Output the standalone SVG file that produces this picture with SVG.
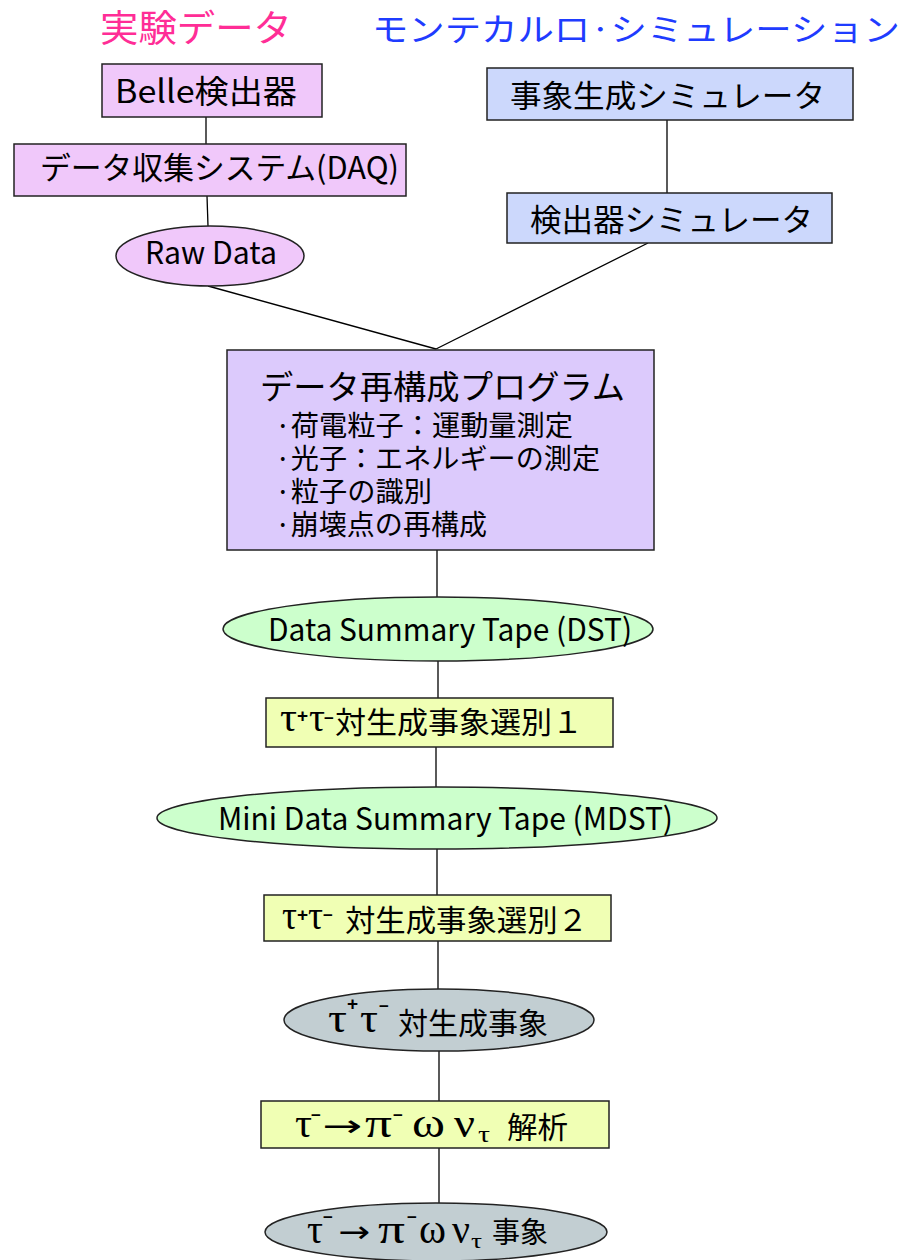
<svg xmlns="http://www.w3.org/2000/svg" width="909" height="1260" viewBox="0 0 909 1260">
<style>
.b{stroke:#222;stroke-width:1.5}
.pk{fill:#f0c8fa}
.bl{fill:#ccd8fc}
.lv{fill:#dccafc}
.gr{fill:#ccffcc}
.yl{fill:#f0ffb4}
.gy{fill:#c2ced2}
text{font-family:"Noto Sans CJK JP","DejaVu Sans",sans-serif;fill:#000}
.g{font-family:"Liberation Serif","DejaVu Serif",serif}
.s{font-family:"Liberation Sans","DejaVu Sans",sans-serif;font-size:19px;font-weight:bold}
.m{font-family:"Liberation Sans","DejaVu Sans",sans-serif;font-size:17px;font-weight:bold}
.a{font-family:"DejaVu Sans",sans-serif;font-size:30px}
#connectors line{stroke:#000;stroke-width:1.3}
</style>
<rect width="909" height="1260" fill="#fff"/>
<text x="100" y="42" font-size="37" style="fill:#ff2d96" textLength="192" lengthAdjust="spacingAndGlyphs">実験データ</text>
<text x="372" y="41" font-size="32" style="fill:#1f3cff" textLength="528" lengthAdjust="spacingAndGlyphs">モンテカルロ·シミュレーション</text>

<g id="connectors">
<line x1="206" y1="117" x2="206" y2="144"/>
<line x1="207" y1="196" x2="208" y2="226"/>
<line x1="208" y1="286" x2="436" y2="349"/>
<line x1="667" y1="120" x2="667" y2="193"/>
<line x1="648" y1="243" x2="436" y2="349"/>
<line x1="437" y1="550" x2="437" y2="598"/>
<line x1="438" y1="661" x2="438" y2="698"/>
<line x1="436" y1="747" x2="436" y2="788"/>
<line x1="437" y1="848" x2="437" y2="895"/>
<line x1="438" y1="941" x2="438" y2="989"/>
<line x1="439" y1="1051" x2="439" y2="1101"/>
<line x1="439" y1="1148" x2="439" y2="1203"/>
</g>

<g id="belle">
<rect class="b pk" x="102" y="64" width="220" height="53"/>
<text x="115" y="103" font-size="32" textLength="182" lengthAdjust="spacingAndGlyphs">Belle検出器</text>
</g>
<g id="daq">
<rect class="b pk" x="14" y="144" width="392" height="52"/>
<text x="40" y="179" font-size="31" textLength="359" lengthAdjust="spacingAndGlyphs">データ収集システム(DAQ)</text>
</g>
<g id="rawdata">
<ellipse class="b pk" cx="210" cy="256" rx="94" ry="30"/>
<text x="145" y="264" font-size="31" textLength="132" lengthAdjust="spacingAndGlyphs">Raw Data</text>
</g>
<g id="evgen">
<rect class="b bl" x="487" y="68" width="366" height="52"/>
<text x="510" y="107" font-size="31" textLength="315" lengthAdjust="spacingAndGlyphs">事象生成シミュレータ</text>
</g>
<g id="detsim">
<rect class="b bl" x="507" y="193" width="325" height="50"/>
<text x="530" y="231" font-size="31" textLength="283" lengthAdjust="spacingAndGlyphs">検出器シミュレータ</text>
</g>
<g id="reco">
<rect class="b lv" x="227" y="350" width="427" height="200"/>
<text x="260" y="399" font-size="33" textLength="365" lengthAdjust="spacingAndGlyphs">データ再構成プログラム</text>
<text x="275" y="436" font-size="28" textLength="298" lengthAdjust="spacingAndGlyphs">·荷電粒子：運動量測定</text>
<text x="275" y="469" font-size="28" textLength="325" lengthAdjust="spacingAndGlyphs">·光子：エネルギーの測定</text>
<text x="275" y="502" font-size="28" textLength="157" lengthAdjust="spacingAndGlyphs">·粒子の識別</text>
<text x="275" y="535" font-size="28" textLength="212" lengthAdjust="spacingAndGlyphs">·崩壊点の再構成</text>
</g>
<g id="dst">
<ellipse class="b gr" cx="438" cy="629" rx="215" ry="32"/>
<text x="268" y="641" font-size="31" textLength="364" lengthAdjust="spacingAndGlyphs">Data Summary Tape (DST)</text>
</g>
<g id="sel1">
<rect class="b yl" x="266" y="698" width="347" height="49"/>
<text class="g" x="280" y="731" font-size="40" textLength="17" lengthAdjust="spacingAndGlyphs">τ</text>
<text class="s" x="297" y="722">+</text>
<text class="g" x="309" y="731" font-size="40" textLength="16" lengthAdjust="spacingAndGlyphs">τ</text>
<text class="m" x="324" y="724">−</text>
<text x="335" y="733" font-size="30" textLength="248" lengthAdjust="spacingAndGlyphs">対生成事象選別１</text>
</g>
<g id="mdst">
<ellipse class="b gr" cx="437" cy="818" rx="280" ry="31"/>
<text x="218" y="830" font-size="31" textLength="455" lengthAdjust="spacingAndGlyphs">Mini Data Summary Tape (MDST)</text>
</g>
<g id="sel2">
<rect class="b yl" x="264" y="895" width="347" height="46"/>
<text class="g" x="282" y="929" font-size="40" textLength="15" lengthAdjust="spacingAndGlyphs">τ</text>
<text class="s" x="297" y="921">+</text>
<text class="g" x="308" y="929" font-size="40" textLength="15" lengthAdjust="spacingAndGlyphs">τ</text>
<text class="m" x="323" y="921">−</text>
<text x="345" y="931" font-size="30" textLength="243" lengthAdjust="spacingAndGlyphs">対生成事象選別２</text>
</g>
<g id="tautau">
<ellipse class="b gy" cx="439" cy="1020" rx="155" ry="31"/>
<text class="g" x="328" y="1032" font-size="42" textLength="19" lengthAdjust="spacingAndGlyphs">τ</text>
<text class="s" x="347" y="1010">+</text>
<text class="g" x="360" y="1032" font-size="42" textLength="18" lengthAdjust="spacingAndGlyphs">τ</text>
<text class="m" x="379" y="1012">−</text>
<text x="398" y="1034" font-size="30" textLength="150" lengthAdjust="spacingAndGlyphs">対生成事象</text>
</g>
<g id="ana">
<rect class="b yl" x="261" y="1101" width="348" height="47"/>
<text class="g" x="295" y="1137" font-size="40" textLength="17" lengthAdjust="spacingAndGlyphs">τ</text>
<text class="m" x="311" y="1121">−</text>
<text class="a" x="322" y="1136" textLength="40" lengthAdjust="spacingAndGlyphs">→</text>
<text class="g" x="365" y="1137" font-size="42" textLength="27" lengthAdjust="spacingAndGlyphs">π</text>
<text class="m" x="393" y="1121">−</text>
<text class="g" x="412" y="1137" font-size="42" textLength="33" lengthAdjust="spacingAndGlyphs">ω</text>
<text class="g" x="454" y="1137" font-size="42" textLength="21" lengthAdjust="spacingAndGlyphs">ν</text>
<text class="g" x="478" y="1142" font-size="24" textLength="12" lengthAdjust="spacingAndGlyphs">τ</text>
<text x="507" y="1138" font-size="30" textLength="61" lengthAdjust="spacingAndGlyphs">解析</text>
</g>
<g id="final">
<ellipse class="b gy" cx="436" cy="1232" rx="171" ry="29"/>
<text class="g" x="307" y="1243" font-size="40" textLength="16" lengthAdjust="spacingAndGlyphs">τ</text>
<text class="m" x="323" y="1223">−</text>
<text class="a" x="338" y="1242" textLength="32" lengthAdjust="spacingAndGlyphs">→</text>
<text class="g" x="378" y="1243" font-size="42" textLength="27" lengthAdjust="spacingAndGlyphs">π</text>
<text class="m" x="407" y="1223">−</text>
<text class="g" x="419" y="1243" font-size="42" textLength="27" lengthAdjust="spacingAndGlyphs">ω</text>
<text class="g" x="452" y="1243" font-size="40" textLength="18" lengthAdjust="spacingAndGlyphs">ν</text>
<text class="g" x="471" y="1248" font-size="22" textLength="11" lengthAdjust="spacingAndGlyphs">τ</text>
<text x="492" y="1243" font-size="29" textLength="56" lengthAdjust="spacingAndGlyphs">事象</text>
</g>
</svg>
